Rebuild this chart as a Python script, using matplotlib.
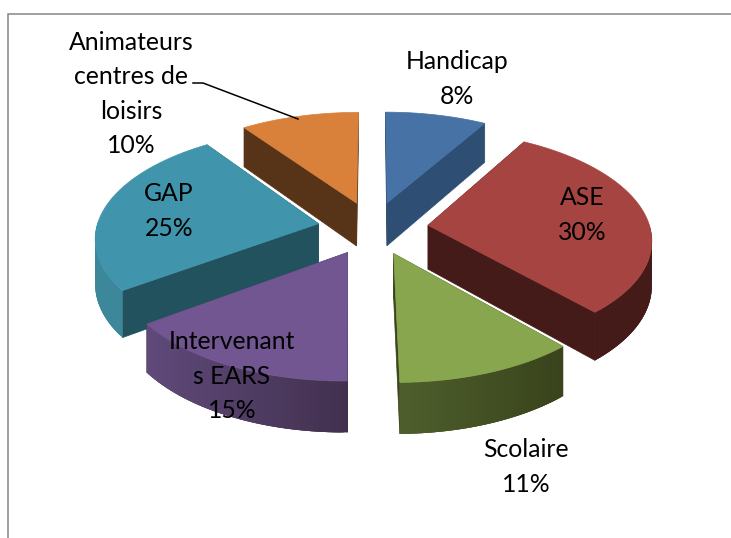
import numpy as np
import matplotlib
matplotlib.use("Agg")
import matplotlib.pyplot as plt
from matplotlib.patches import Polygon

plt.rcParams['font.family'] = ['Lato', 'DejaVu Sans']

# data, clockwise from 12 o'clock (labels show them rounded)
categories = ["Handicap", "ASE", "Scolaire", "Intervenant\ns EARS", "GAP", "Animateurs\ncentres de\nloisirs"]
values = [8.4, 30.0, 11.4, 15.2, 25.2, 9.8]

# colours
top_colors = ["#4672A5", "#A64442", "#88A64E", "#725691", "#4095AD", "#D9803A"]
side_colors = ["#2E4E73", "#451B19", "#39431C", "#3F3052", "#23525F", "#573317"]
wall_left = ["#2E4E73", "#451B19", "#4E5F2C", "#5F4A7A", "#3C8799", "#573317"]
wall_right = ["#2E4E73", "#451B19", "#39431C", "#42304F", "#3C8799", "#573317"]

# label centres in pixels
label_pos = [(457, 79), (582, 215), (526, 467), (232, 376), (169, 211), (131, 94)]

# projection settings
cx, cy = 373, 228
ax_x, ax_y = 222, 107
persp = 0.118
depth = 44
explode = 0.25


def project(x, y, z=0):
    s = 1 / (1 + persp * y)
    return cx + ax_x * x * s, cy - ax_y * y * s + depth * z * s


def hex2rgb(c):
    return np.array(matplotlib.colors.to_rgb(c))


fig = plt.figure(figsize=(7.31, 5.38), dpi=100)
ax = fig.add_axes([0, 0, 1, 1])
ax.set_xlim(0, 731)
ax.set_ylim(538, 0)
ax.axis('off')

# frame of the chart area
ax.plot([8, 8, 731], [538, 13.5, 13.5], color="#868686", lw=1.1, solid_joinstyle='miter')

total = sum(values)
edges = np.cumsum([0] + values) / total * 2 * np.pi


def draw_slice(i):
    a0, a1 = edges[i], edges[i + 1]
    mid = (a0 + a1) / 2
    ox, oy = explode * np.sin(mid), explode * np.cos(mid)
    angles = np.linspace(a0, a1, 90)
    rx = ox + np.sin(angles)
    ry = oy + np.cos(angles)

    # radial faces
    for a in (a0, a1):
        px, py = ox + np.sin(a), oy + np.cos(a)
        face = [project(ox, oy), project(px, py), project(px, py, 1), project(ox, oy, 1)]
        ax.add_patch(Polygon(face, facecolor=side_colors[i], edgecolor=side_colors[i], lw=0.5))

    # outer wall, only the part looking at us. Strips overlap so no seams show
    c0, c1 = hex2rgb(wall_left[i]), hex2rgb(wall_right[i])
    xs = [project(x, y)[0] for x, y in zip(rx, ry)]
    lo, hi = min(xs), max(xs)
    for k in range(len(angles) - 1):
        if np.cos((angles[k] + angles[k + 1]) / 2) > 0:
            continue
        k2 = min(k + 3, len(angles) - 1)
        strip = [project(rx[j], ry[j]) for j in range(k, k2 + 1)]
        strip += [project(rx[j], ry[j], 1) for j in range(k2, k - 1, -1)]
        t = (xs[k] - lo) / (hi - lo)
        col = c0 + (c1 - c0) * t
        ax.add_patch(Polygon(strip, facecolor=col, edgecolor='none'))

    # top surface
    outline = [project(ox, oy)] + [project(x, y) for x, y in zip(rx, ry)]
    ax.add_patch(Polygon(outline, facecolor=top_colors[i], edgecolor=top_colors[i], lw=0.5))


# back to front, ASE overlaps Scolaire
for i in [5, 0, 4, 3, 2, 1]:
    draw_slice(i)

# leader line for the last label
ax.plot([193, 203, 298], [83, 83, 119], color="black", lw=1.1)

for name, val, pos in zip(categories, values, label_pos):
    ax.text(pos[0], pos[1], f"{name}\n{val:.0f}%", ha='center', va='center',
            fontsize=17.8, color="black", linespacing=1.6)

plt.savefig("out.png", dpi=100)
